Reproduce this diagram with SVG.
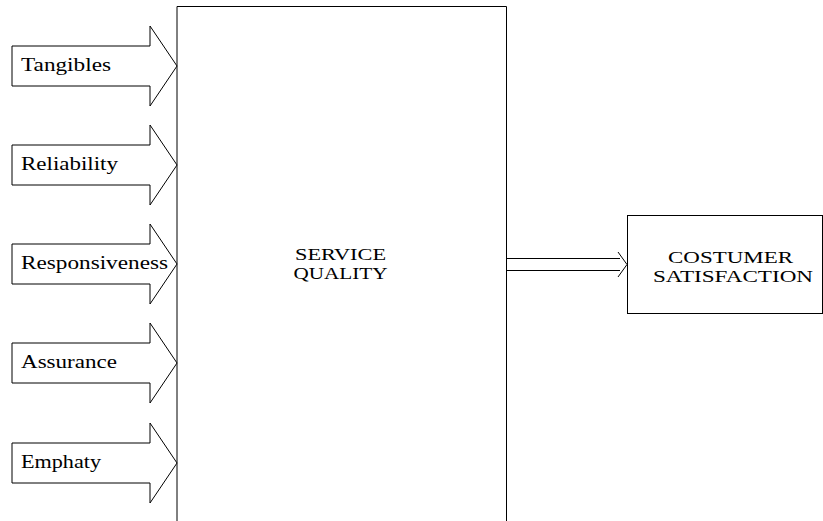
<svg xmlns="http://www.w3.org/2000/svg" width="823" height="521" viewBox="0 0 823 521">
<style>
.shape{fill:#fff;stroke:#000;stroke-width:1}
.lbl{font-family:"Liberation Serif",serif;font-size:18px;fill:#000}
.big{font-family:"Liberation Serif",serif;font-size:17.5px;fill:#000;text-anchor:middle}
</style>
<rect width="823" height="521" fill="#fff"/>
<g id="service-quality">
<path class="shape" d="M177,521 V6.5 H506.5 V521"/>
<text class="big" x="340.5" y="260" textLength="91" lengthAdjust="spacingAndGlyphs">SERVICE</text>
<text class="big" x="340.5" y="279" textLength="94" lengthAdjust="spacingAndGlyphs">QUALITY</text>
</g>
<g id="tangibles">
<polygon class="shape" points="12,46 150,46 150,26 177,66 150,106 150,86 12,86"/>
<text class="lbl" x="21" y="71" textLength="90" lengthAdjust="spacingAndGlyphs">Tangibles</text>
</g>
<g id="reliability">
<polygon class="shape" points="12,145 150,145 150,125 177,165 150,205 150,185 12,185"/>
<text class="lbl" x="21" y="170" textLength="97" lengthAdjust="spacingAndGlyphs">Reliability</text>
</g>
<g id="responsiveness">
<polygon class="shape" points="12,244 150,244 150,224 177,264 150,304 150,284 12,284"/>
<text class="lbl" x="21" y="269" textLength="147" lengthAdjust="spacingAndGlyphs">Responsiveness</text>
</g>
<g id="assurance">
<polygon class="shape" points="12,343 150,343 150,323 177,363 150,403 150,383 12,383"/>
<text class="lbl" x="21" y="368" textLength="96" lengthAdjust="spacingAndGlyphs">Assurance</text>
</g>
<g id="emphaty">
<polygon class="shape" points="12,443 150,443 150,423 177,463 150,503 150,483 12,483"/>
<text class="lbl" x="21" y="468" textLength="80" lengthAdjust="spacingAndGlyphs">Emphaty</text>
</g>
<g id="customer-satisfaction">
<rect class="shape" x="627.5" y="215.5" width="195" height="98"/>
<text class="big" x="730.5" y="262.5" textLength="125" lengthAdjust="spacingAndGlyphs">COSTUMER</text>
<text class="big" x="733" y="281.5" textLength="160" lengthAdjust="spacingAndGlyphs">SATISFACTION</text>
</g>
<g id="connectors" fill="none" stroke="#000" stroke-width="1">
<path d="M507,258.5 H620 M507,270.5 H620 M618,252 L627,264.5 L618,277"/>
</g>
</svg>
